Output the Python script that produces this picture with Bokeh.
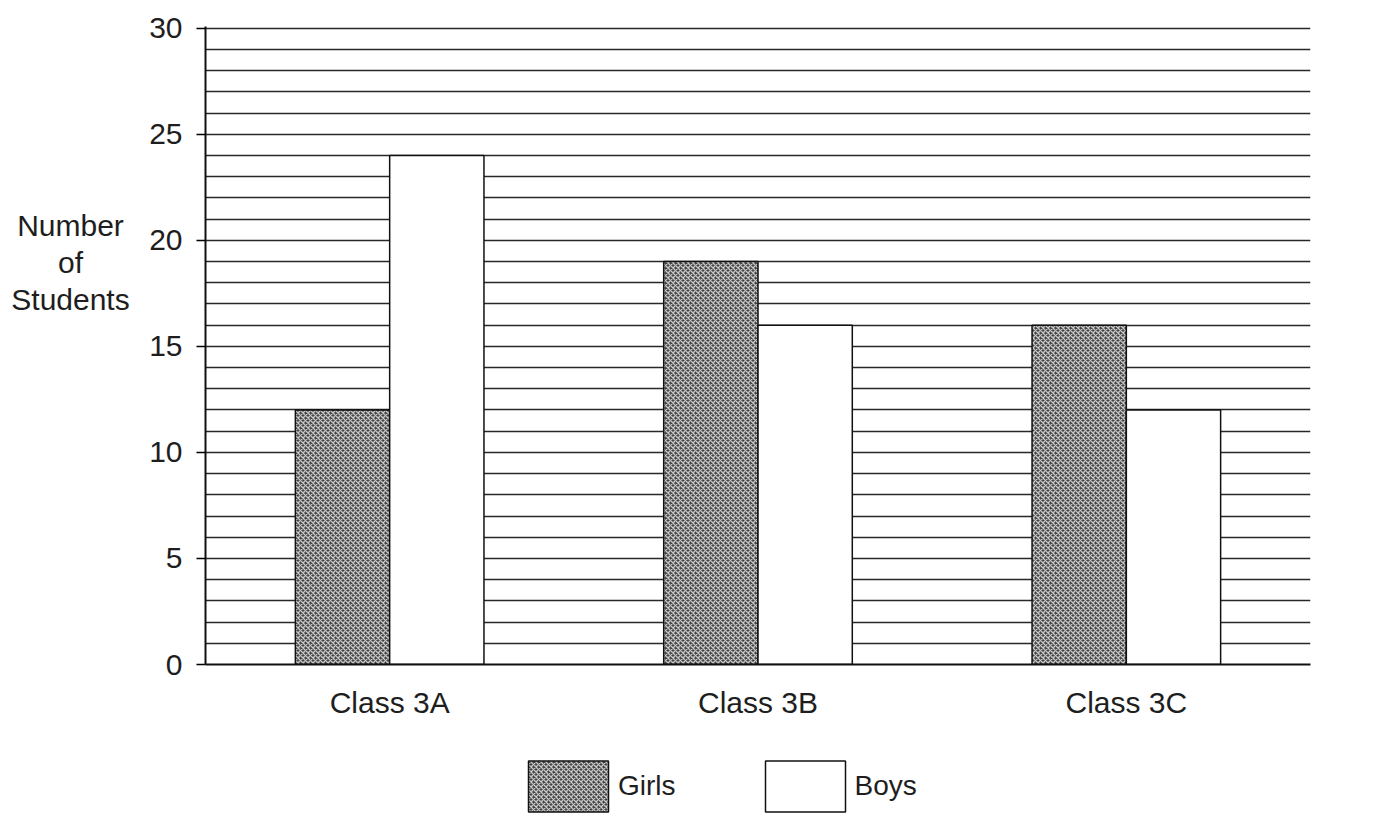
from bokeh.plotting import figure
from bokeh.models import ColumnDataSource, Range1d, FactorRange, Legend, LegendItem, SingleIntervalTicker
from bokeh.layouts import column, row
from bokeh.core.properties import value
from bokeh.transform import dodge
from bokeh.embed import file_html
from bokeh.resources import INLINE

classes = ["Class 3A", "Class 3B", "Class 3C"]
girls = [12, 19, 16]
boys = [24, 16, 12]
y_ticks = [0, 5, 10, 15, 20, 25, 30]
y_title = "Number\nof\nStudents"

src = ColumnDataSource(dict(classes=classes, girls=girls, boys=boys))

FONT = "Liberation Sans"
INK = "#1e1e1e"
TOP, BOTTOM = 26, 76
MAIN_H = 740

yr = Range1d(0, 30.08)

# ---- left strip holding the horizontal y-axis title ----
left = figure(width=140, height=MAIN_H, x_range=Range1d(0, 1), y_range=yr,
              output_backend="svg", toolbar_location=None,
              min_border_left=0, min_border_right=0, min_border_top=TOP, min_border_bottom=BOTTOM)
left.axis.visible = False
left.grid.grid_line_color = None
left.outline_line_color = None
left.text(x=[0.5], y=[18.95], text=[y_title], text_align="center", text_baseline="middle",
          text_font=value(FONT), text_font_size="30px", text_color=INK, text_line_height=1.13)

# ---- main chart ----
p = figure(x_range=FactorRange(*classes, range_padding=0), y_range=yr,
           width=1250, height=MAIN_H, output_backend="svg", toolbar_location=None,
           min_border_left=65, min_border_right=80, min_border_top=TOP, min_border_bottom=BOTTOM)
p.outline_line_color = None

p.xgrid.grid_line_color = None
p.ygrid.ticker = SingleIntervalTicker(interval=1)
p.ygrid.grid_line_color = "#111111"
p.ygrid.grid_line_width = 1.4
p.ygrid.grid_line_alpha = 0.9

p.yaxis.ticker = y_ticks
p.yaxis.axis_line_color = "#111111"
p.yaxis.axis_line_width = 2
p.yaxis.major_tick_in = 0
p.yaxis.major_tick_out = 9
p.yaxis.major_tick_line_width = 1.5
p.yaxis.minor_tick_line_color = None
p.yaxis.major_label_text_font = FONT
p.yaxis.major_label_text_font_size = "30px"
p.yaxis.major_label_text_color = INK
p.yaxis.major_label_standoff = 14

p.xaxis.axis_line_color = "#111111"
p.xaxis.axis_line_width = 2
p.xaxis.major_tick_line_color = None
p.xaxis.major_label_text_font = FONT
p.xaxis.major_label_text_font_size = "30px"
p.xaxis.major_label_text_color = INK
p.xaxis.major_label_standoff = 15

GIRL_STYLE = dict(fill_color="#444444", hatch_pattern="x", hatch_color="#c8c8c8", hatch_scale=5,
                  hatch_weight=1.3, line_color="#111111", line_width=1.5)
BOY_STYLE = dict(fill_color="white", line_color="#111111", line_width=1.5)

p.vbar(x=dodge("classes", -0.128, range=p.x_range), top="girls", width=0.256, source=src, **GIRL_STYLE)
p.vbar(x=dodge("classes", 0.128, range=p.x_range), top="boys", width=0.256, source=src, **BOY_STYLE)

# ---- legend strip: hidden renderers that only supply the legend keys ----
lg = figure(width=1390, height=80, x_range=FactorRange(*classes), y_range=Range1d(0, 30),
            output_backend="svg", toolbar_location=None,
            min_border_left=0, min_border_right=0, min_border_top=0, min_border_bottom=0)
lg.axis.visible = False
lg.grid.grid_line_color = None
lg.outline_line_color = None
g_key = lg.vbar(x=dodge("classes", -0.128, range=lg.x_range), top="girls", width=0.256,
                source=src, visible=False, **GIRL_STYLE)
b_key = lg.vbar(x=dodge("classes", 0.128, range=lg.x_range), top="boys", width=0.256,
                source=src, visible=False, **BOY_STYLE)
legend = Legend(items=[LegendItem(label="Girls", renderers=[g_key], index=0),
                       LegendItem(label="Boys", renderers=[b_key], index=0)],
                orientation="horizontal", location=(518, 2), click_policy="none",
                glyph_width=100, glyph_height=64, spacing=79,
                label_text_font=FONT, label_text_font_size="28px",
                label_text_color=INK, label_standoff=0, label_text_baseline="bottom",
                border_line_color=None, background_fill_alpha=0,
                margin=0, padding=0)
lg.add_layout(legend, "center")

layout = column(row(left, p), lg)
open("out.html", "w").write(file_html(layout, INLINE))
